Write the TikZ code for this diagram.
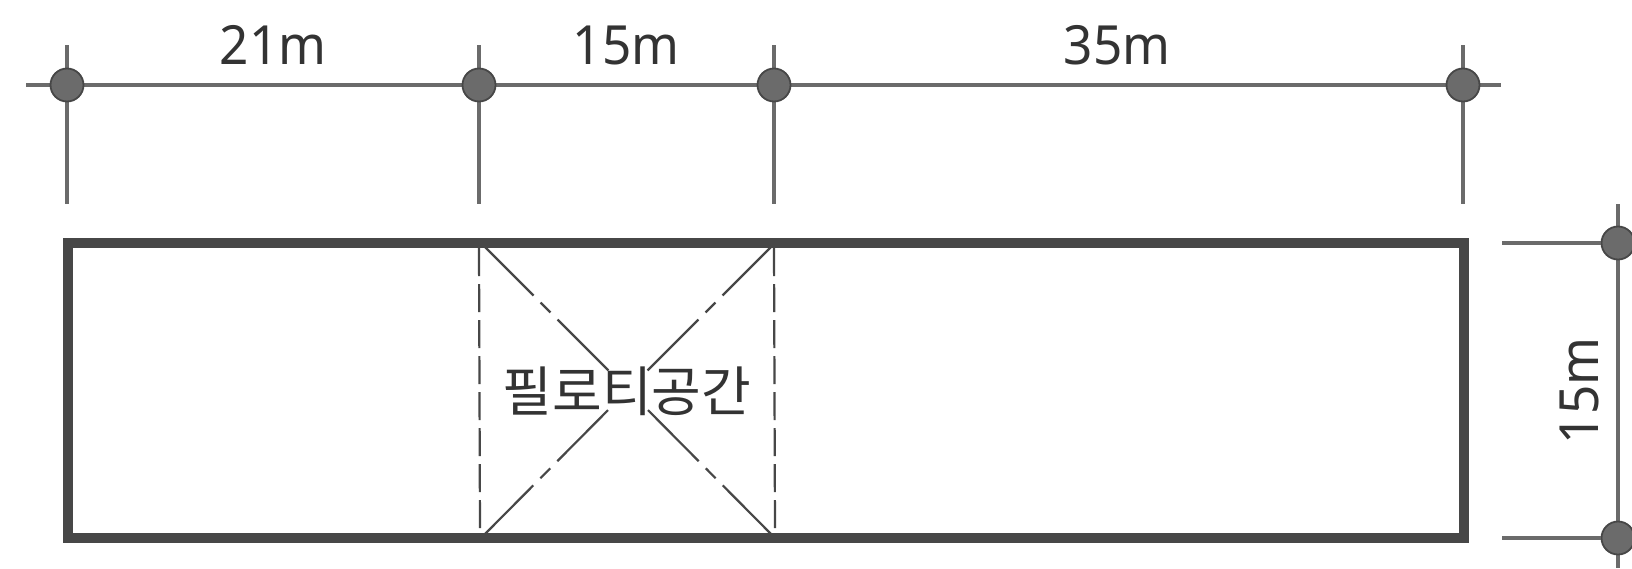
\documentclass[tikz,border=0pt]{standalone}
\usepackage{fontspec}
\setmainfont{Noto Sans}
\newfontfamily\krfont{Noto Sans CJK KR}
\definecolor{inkline}{gray}{0.42}
\definecolor{inkdark}{gray}{0.28}
\definecolor{inktext}{gray}{0.2}
\begin{document}
\begin{tikzpicture}[x=0.5pt,y=-0.5pt,
  dimline/.style={draw=inkline,line width=1.8pt},
  dimdot/.style={circle,fill=inkline,draw=inkdark,line width=0.9pt,minimum size=16.5pt,inner sep=0pt},
  wall/.style={draw=inkdark,line width=4.8pt,line join=miter},
  hiddenline/.style={draw=inkdark,line width=1.1pt,dash pattern=on 14pt off 4pt},
  crossline/.style={draw=inkdark,line width=1.1pt,dash pattern=on 35pt off 5pt on 7pt off 5pt on 36pt off 60pt},
  dimtext/.style={font=\fontsize{27}{27}\selectfont,text=inktext,inner sep=0pt,anchor=base,xscale=0.95},
  krtext/.style={font=\krfont\fontsize{27}{27}\selectfont,text=inktext,inner sep=0pt}]
\useasboundingbox (0,0) rectangle (1632,568);
\clip (0,0) rectangle (1632,568);
\fill[white] (0,0) rectangle (1632,568);
% axis points
\coordinate (la) at (26,85);
\coordinate (lb) at (1501,85);
\foreach \n/\x in {A/67,B/479,C/774,D/1463}{
  \coordinate (\n t) at (\x,45);
  \coordinate (\n b) at (\x,204);
  \draw[dimline] (\n t) -- (\n b);
}
\draw[dimline] (la) -- (lb);
\foreach \n/\x in {A/67,B/479,C/774,D/1463}{
  \node[dimdot] (\n) at (\x,85) {};
}
% wall
\coordinate (w1) at (68,243);
\coordinate (w2) at (1464,243);
\coordinate (w3) at (1464,538);
\coordinate (w4) at (68,538);
\coordinate (pa) at (479,248);
\coordinate (pb) at (774,248);
\coordinate (pc) at (775,533);
\coordinate (pd) at (480,533);
\coordinate (xa) at (484,246);
\coordinate (xb) at (772,246);
\coordinate (xc) at (772,535);
\coordinate (xd) at (484,535);
\coordinate (mid) at (628,390);
\draw[hiddenline] (pa) -- (pd);
\draw[hiddenline] (pb) -- (pc);
\draw[crossline] (xa) -- (mid);
\draw[crossline] (xb) -- (mid);
\draw[crossline] (xc) -- (mid);
\draw[crossline] (xd) -- (mid);
\draw[wall] (w1) -- (w2) -- (w3) -- (w4) -- cycle;
% right dimension
\coordinate (rt) at (1618,204);
\coordinate (rb) at (1618,568);
\coordinate (h1) at (1502,243);
\coordinate (h2) at (1502,538);
\draw[dimline] (rt) -- (rb);
\node[dimdot] (E) at (1618,243) {};
\node[dimdot] (F) at (1618,538) {};
\draw[dimline] (h1) -- (E);
\draw[dimline] (h2) -- (F);
% labels
\node[dimtext] (t1) at (273,64) {21m};
\node[dimtext] (t2) at (626,64) {15m};
\node[dimtext] (t3) at (1117,64) {35m};
\node[rotate=90,dimtext] (t4) at (1598,391) {15m};
\node[krtext] (t5) at (627,391) {필로티공간};
\end{tikzpicture}
\end{document}
